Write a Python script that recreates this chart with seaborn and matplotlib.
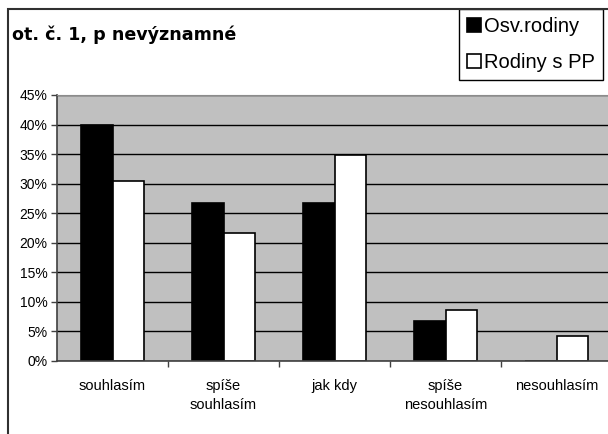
import matplotlib
matplotlib.use('Agg')
import matplotlib.pyplot as plt
from matplotlib.patches import Rectangle
from matplotlib.ticker import MultipleLocator, PercentFormatter
import pandas as pd
import seaborn as sns

# Answer categories (x axis) and the share of each group in %
categories = ['souhlasím', 'spíše\nsouhlasím', 'jak kdy', 'spíše\nnesouhlasím', 'nesouhlasím']
osv_rodiny = [40.0, 26.7, 26.7, 6.7, 0.0]
rodiny_pp = [30.4, 21.7, 34.8, 8.7, 4.3]
series_names = ['Osv.rodiny', 'Rodiny s PP']

data = pd.DataFrame({
    'kategorie': categories * 2,
    'podil': osv_rodiny + rodiny_pp,
    'skupina': [series_names[0]] * len(categories) + [series_names[1]] * len(categories),
})

sns.set_style('white')
plt.rcParams['font.family'] = ['Liberation Sans', 'DejaVu Sans']
plt.rcParams['text.color'] = 'black'
plt.rcParams['xtick.color'] = 'black'
plt.rcParams['ytick.color'] = 'black'

W, H = 608, 434
figure = plt.figure(figsize=(W / 100, H / 100), dpi=100)
axes = figure.add_axes([57 / W, (H - 361) / H, (612 - 57) / W, (361 - 95) / H])

sns.barplot(data=data, x='kategorie', y='podil', hue='skupina', ax=axes,
            palette=['black', 'white'], edgecolor='black', linewidth=1.2,
            width=0.56, gap=0, legend=True)

# Excel-like plot area: grey fill, black gridlines every 5 %
axes.set_facecolor('#C0C0C0')
axes.set_ylim(0, 45)
axes.yaxis.set_major_locator(MultipleLocator(5))
axes.yaxis.set_major_formatter(PercentFormatter(decimals=0))
axes.grid(axis='y', color='black', linewidth=1.0)
axes.set_axisbelow(True)
axes.set(xlabel='', ylabel='')

for side in ['left', 'bottom']:
    axes.spines[side].set_color('#404040')
    axes.spines[side].set_linewidth(1.2)
axes.spines['top'].set_color('#8C8C8C')
axes.spines['right'].set_visible(False)

axes.tick_params(axis='y', left=True, length=4, width=1, color='#404040',
                 labelcolor='black', labelsize=10, pad=3)
axes.tick_params(axis='x', which='major', length=0, labelcolor='black',
                 labelsize=10.5, pad=13)
axes.set_xticks([i + 0.5 for i in range(len(categories))], minor=True)
axes.tick_params(axis='x', which='minor', bottom=True, length=4, width=1,
                 color='#404040')
for label in axes.get_xticklabels():
    label.set_linespacing(1.45)

# Legend box in the top right corner
handles, labels = axes.get_legend_handles_labels()
legend = axes.legend(handles, labels, loc='upper right',
                     bbox_to_anchor=(603 / W, 1 - 9 / H),
                     bbox_transform=figure.transFigure,
                     frameon=True, fancybox=False, edgecolor='black', framealpha=1,
                     fontsize=14.5, handlelength=0.7, handleheight=0.7,
                     handletextpad=0.15, labelspacing=0.85, borderpad=0.4,
                     borderaxespad=0)
legend.get_frame().set_linewidth(1.0)
for text in legend.get_texts():
    text.set_color('black')

# Title and chart border
figure.text(12 / W, 1 - 35 / H, 'ot. č. 1, p nevýznamné', fontsize=12.6,
            fontweight='bold', family='DejaVu Sans', color='black',
            va='center', ha='left')
figure.patches.append(Rectangle((8 / W, -0.1), 2.0, 1.1 - 9 / H,
                                transform=figure.transFigure, fill=False,
                                edgecolor='#303030', linewidth=1.5))

figure.savefig('out.png', dpi=100)
